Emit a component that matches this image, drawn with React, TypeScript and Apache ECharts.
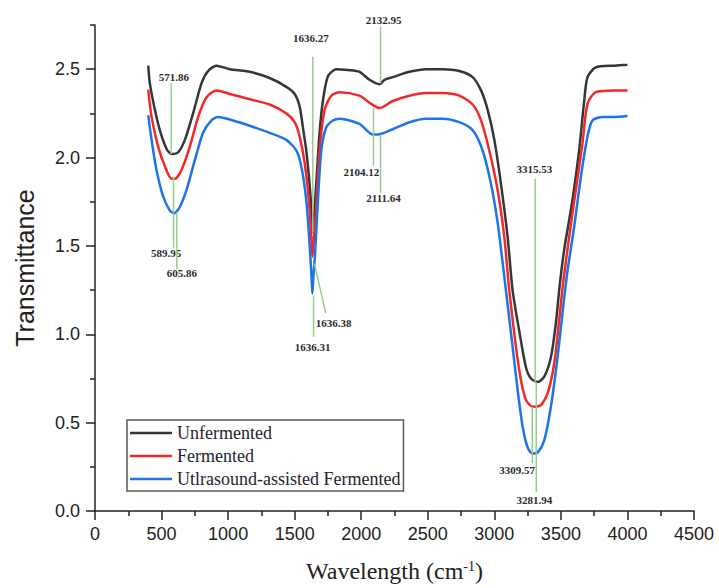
import React, { useEffect, useRef } from 'react';
import * as echarts from 'echarts';

const seriesNames = ['Unfermented', 'Fermented', 'Utlrasound-assisted Fermented'];
const seriesColors = ['#363636', '#f42828', '#1c74e8'];

const unfermented: [number, number][] = [
  [400, 2.52], [412, 2.42], [450, 2.27], [487, 2.155], [537, 2.05], [575, 2.02], [625, 2.03],
  [675, 2.10], [737, 2.25], [800, 2.42], [850, 2.49], [912, 2.52], [1012, 2.50], [1162, 2.485],
  [1312, 2.45], [1437, 2.40], [1500, 2.36], [1537, 2.29], [1562, 2.17], [1587, 2.04], [1612, 1.85],
  [1630, 1.66], [1637, 1.58], [1645, 1.66], [1662, 1.85], [1687, 2.14], [1712, 2.32], [1750, 2.46],
  [1812, 2.50], [1900, 2.495], [1987, 2.485], [2062, 2.44], [2137, 2.415], [2175, 2.44], [2237, 2.455],
  [2362, 2.485], [2487, 2.50], [2612, 2.50], [2737, 2.49], [2837, 2.455], [2900, 2.38], [2950, 2.27],
  [3000, 2.10], [3050, 1.85], [3100, 1.55], [3137, 1.25], [3187, 1.02], [3237, 0.815], [3275, 0.75],
  [3325, 0.73], [3375, 0.76], [3425, 0.87], [3462, 1.06], [3490, 1.27], [3525, 1.48], [3587, 1.76],
  [3637, 2.04], [3675, 2.32], [3700, 2.455], [3762, 2.51], [3900, 2.52], [4000, 2.525],
];

const fermented: [number, number][] = [
  [400, 2.385], [425, 2.23], [475, 2.06], [525, 1.95], [575, 1.88], [600, 1.88], [650, 1.93],
  [712, 2.06], [775, 2.23], [837, 2.34], [912, 2.38], [1012, 2.36], [1162, 2.33], [1312, 2.30],
  [1437, 2.25], [1500, 2.20], [1537, 2.12], [1575, 1.97], [1607, 1.76], [1627, 1.52], [1634, 1.44],
  [1642, 1.52], [1657, 1.66], [1687, 2.04], [1725, 2.27], [1775, 2.35], [1837, 2.37], [1987, 2.35],
  [2062, 2.31], [2137, 2.28], [2237, 2.32], [2362, 2.35], [2487, 2.365], [2612, 2.365], [2737, 2.35],
  [2837, 2.30], [2900, 2.21], [2962, 2.04], [3025, 1.815], [3075, 1.55], [3112, 1.25], [3162, 0.93],
  [3200, 0.74], [3237, 0.63], [3287, 0.59], [3350, 0.60], [3400, 0.665], [3450, 0.835], [3487, 1.08],
  [3515, 1.28], [3562, 1.55], [3612, 1.815], [3662, 2.08], [3700, 2.305], [3762, 2.37], [3900, 2.38],
  [4000, 2.38],
];

const ultrasound: [number, number][] = [
  [400, 2.24], [425, 2.10], [462, 1.93], [512, 1.78], [562, 1.70], [595, 1.685], [637, 1.72],
  [687, 1.815], [750, 1.985], [812, 2.14], [875, 2.21], [925, 2.23], [1037, 2.21], [1162, 2.18],
  [1312, 2.14], [1437, 2.10], [1512, 2.04], [1550, 1.95], [1587, 1.76], [1612, 1.51], [1627, 1.32],
  [1633, 1.23], [1640, 1.32], [1652, 1.44], [1675, 1.76], [1700, 2.04], [1737, 2.17], [1787, 2.21],
  [1837, 2.22], [1987, 2.19], [2087, 2.13], [2125, 2.13], [2237, 2.16], [2362, 2.20], [2487, 2.22],
  [2612, 2.22], [2737, 2.20], [2837, 2.155], [2912, 2.04], [2975, 1.85], [3025, 1.63], [3075, 1.325],
  [3137, 0.93], [3175, 0.685], [3212, 0.48], [3250, 0.36], [3287, 0.325], [3325, 0.33], [3375, 0.40],
  [3425, 0.59], [3475, 0.87], [3512, 1.12], [3550, 1.36], [3600, 1.61], [3650, 1.89], [3700, 2.12],
  [3737, 2.21], [3812, 2.23], [3900, 2.23], [4000, 2.235],
];

const yMajorTicks = [0, 0.5, 1, 1.5, 2, 2.5];
const yMinorTicks = [0.25, 0.75, 1.25, 1.75, 2.25, 2.75];

// peak annotations: label text, line start (on curve), line end, label centre
const peakLabels = ['571.86', '589.95', '605.86', '1636.27', '1636.38', '1636.31', '2132.95', '2104.12', '2111.64', '3315.53', '3309.57', '3281.94'];
const peakLineX1 = [571.86, 589.95, 615, 1636.27, 1648, 1642, 2145, 2092, 2145, 3307, 3285, 3315];
const peakLineY1 = [2.02, 1.885, 1.69, 1.58, 1.40, 1.22, 2.42, 2.28, 2.13, 0.73, 0.59, 0.73];
const peakLineX2 = [571.86, 589.95, 615, 1636.27, 1733, 1642, 2145, 2092, 2145, 3307, 3285, 3315];
const peakLineY2 = [2.42, 1.49, 1.37, 2.57, 1.12, 0.985, 2.74, 1.95, 1.80, 1.88, 0.27, 0.107];
const peakLabelX = [592, 535, 652, 1622, 1793, 1635, 2168, 2002, 2168, 3300, 3172, 3300];
const peakLabelY = [2.455, 1.46, 1.345, 2.675, 1.063, 0.93, 2.777, 1.917, 1.77, 1.935, 0.232, 0.062];

const sans = '"Liberation Sans", Arial, sans-serif';
const serif = '"Liberation Serif", "Times New Roman", serif';

export default function App() {
  const ref = useRef<HTMLDivElement>(null);
  useEffect(() => {
    if (!ref.current) return;
    const chart = echarts.init(ref.current, null, { renderer: 'svg' });
    const curves = [unfermented, fermented, ultrasound];
    const annotData = peakLabels.map((_, i) => [
      peakLineX1[i], peakLineY1[i], peakLineX2[i], peakLineY2[i], peakLabelX[i], peakLabelY[i],
    ]);
    const option: any = {
      animation: false,
      backgroundColor: '#ffffff',
      grid: { left: 95, right: 25, top: 25, bottom: 77, containLabel: false },
      legend: {
        data: seriesNames,
        orient: 'vertical',
        left: 127,
        top: 420,
        padding: [4, 3, 3, 3],
        itemGap: 5,
        itemWidth: 42,
        itemHeight: 2.5,
        icon: 'rect',
        borderColor: '#5a5a5a',
        borderWidth: 1.5,
        borderRadius: 0,
        backgroundColor: '#ffffff',
        textStyle: { fontFamily: serif, fontSize: 18, color: '#1e2430' },
      },
      xAxis: {
        type: 'value',
        min: 0,
        max: 4500,
        interval: 500,
        name: '{a|Wavelength (cm}{s|-1}{a|)}',
        nameLocation: 'middle',
        nameGap: 48,
        nameTextStyle: {
          rich: {
            a: { fontFamily: serif, fontSize: 24, color: '#222' },
            s: { fontFamily: serif, fontSize: 14, color: '#222', verticalAlign: 'top', padding: [0, 0, 8, 0] },
          },
        },
        axisLine: { show: true, onZero: false, lineStyle: { color: '#222', width: 1.5 } },
        axisTick: { show: true, inside: false, length: 9, lineStyle: { color: '#222', width: 1.5 } },
        minorTick: { show: true, splitNumber: 2, length: 5, lineStyle: { color: '#222', width: 1.5 } },
        axisLabel: {
          fontFamily: sans, fontSize: 18, color: '#222', margin: 14,
          formatter: (v: number) => String(v),
        },
        splitLine: { show: false },
        minorSplitLine: { show: false },
      },
      yAxis: [
        {
          type: 'value',
          min: 0,
          max: 2.75,
          interval: 0.5,
          position: 'left',
          name: 'Transmittance',
          nameLocation: 'middle',
          nameGap: 58,
          nameTextStyle: { fontFamily: sans, fontSize: 25, color: '#222' },
          axisLine: { show: true, onZero: false, lineStyle: { color: '#222', width: 1.5 } },
          axisTick: { show: true, inside: false, length: 9, customValues: yMajorTicks, lineStyle: { color: '#222', width: 1.5 } },
          axisLabel: {
            fontFamily: sans, fontSize: 18, color: '#222', margin: 15,
            customValues: yMajorTicks,
            formatter: (v: number) => v.toFixed(1),
          },
          splitLine: { show: false },
        },
        {
          type: 'value',
          min: 0,
          max: 2.75,
          interval: 0.25,
          position: 'left',
          axisLine: { show: false },
          axisTick: { show: true, inside: false, length: 5, customValues: yMinorTicks, lineStyle: { color: '#222', width: 1.5 } },
          axisLabel: { show: false },
          splitLine: { show: false },
        },
      ],
      series: [
        ...curves.map((d, i) => ({
          name: seriesNames[i],
          type: 'line',
          data: d,
          showSymbol: false,
          symbol: 'none',
          smooth: 0.25,
          color: seriesColors[i],
          lineStyle: { color: seriesColors[i], width: 2.5 },
          z: 2,
        })),
        {
          type: 'custom',
          name: 'peaks',
          clip: false,
          z: 5,
          data: annotData,
          renderItem: (params: any, api: any) => {
            const i = params.dataIndex;
            const a = api.coord([api.value(0), api.value(1)]);
            const b = api.coord([api.value(2), api.value(3)]);
            const c = api.coord([api.value(4), api.value(5)]);
            return {
              type: 'group',
              children: [
                {
                  type: 'line',
                  shape: { x1: a[0], y1: a[1], x2: b[0], y2: b[1] },
                  style: { stroke: '#93d08c', lineWidth: 1.5 },
                },
                {
                  type: 'text',
                  x: c[0],
                  y: c[1],
                  style: {
                    text: peakLabels[i],
                    fill: '#2a2a2a',
                    font: `bold 11px ${serif}`,
                    align: 'center',
                    verticalAlign: 'middle',
                  },
                },
              ],
            };
          },
        },
      ],
    };
    chart.setOption(option);
    return () => chart.dispose();
  }, []);
  return (
    <div
      ref={ref}
      style={{ position: 'fixed', left: 0, top: 0, width: 719, height: 588, background: '#fff' }}
    />
  );
}
